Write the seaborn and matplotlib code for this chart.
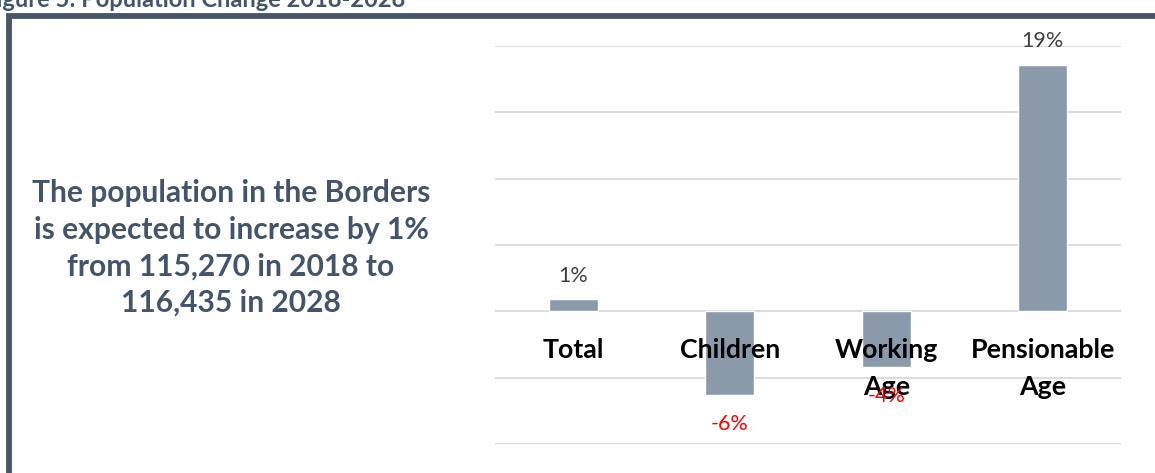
import matplotlib
matplotlib.use("Agg")
import matplotlib.pyplot as plt
from matplotlib.patches import Rectangle
import seaborn as sns
import pandas as pd

# ---- data ----
categories = ["Total", "Children", "Working\nAge", "Pensionable\nAge"]
changes = [0.95, -6.3, -4.2, 18.6]
y_ticks = [-10, -5, 0, 5, 10, 15, 20]
title_text = "Figure 5: Population Change 2018-2028"
side_text = ("The population in the Borders\nis expected to increase by 1%\n"
             "from 115,270 in 2018 to\n116,435 in 2028")

sns.set_theme(style="white")
plt.rcParams['font.family'] = ['Lato', 'DejaVu Sans']

W, H, DPI = 1155, 473, 100
fig = plt.figure(figsize=(W / DPI, H / DPI), dpi=DPI)
fig.patch.set_facecolor("white")

# axes placement (pixel based)
x0, x1 = 495, 1121
ytop, ybot = 46, 444
ax = fig.add_axes([x0 / W, (H - ybot) / H, (x1 - x0) / W, (ybot - ytop) / H])

df = pd.DataFrame({"cat": categories, "val": changes})
sns.barplot(data=df, x="cat", y="val", color="#8A9AAB", saturation=1,
            width=0.31, ax=ax)

ax.set_ylim(y_ticks[0], y_ticks[-1])
ax.set_xlim(-0.5, len(categories) - 0.5)
for t in y_ticks:
    ax.axhline(t, color="#D9D9D9", lw=1.3, zorder=0)
ax.set_yticks([])
ax.set_xticks([])
ax.set_xlabel("")
ax.set_ylabel("")
for s in ax.spines.values():
    s.set_visible(False)

# category labels next to the zero line
px_per_unit = (ybot - ytop) / (y_ticks[-1] - y_ticks[0])
def px_to_data(py):
    return (312 - py) / px_per_unit

for i, lab in enumerate(categories):
    lines = lab.split("\n")
    for j, ln in enumerate(lines):
        ax.text(i, px_to_data(359 + 37 * j), ln, ha="center", va="baseline",
                fontsize=19.3, fontweight="bold", color="black", zorder=5)

# data labels
for i, v in enumerate(changes):
    txt = f"{round(v):.0f}%"
    if v >= 0:
        ax.annotate(txt, (i, v), xytext=(0, 12.3), textcoords="offset points",
                    ha="center", va="baseline", fontsize=15.5, color="#404040")
    else:
        ax.annotate(txt, (i, v), xytext=(0, -14), textcoords="offset points",
                    ha="center", va="top", fontsize=15.5, color="#FF0000",
                    zorder=6)

# side text
fig.text(231 / W, 1 - 248 / H, side_text, ha="center", va="center",
         fontsize=21.6, fontweight="bold", color="#44546A", linespacing=1.37)

# cut-off title at the very top
fig.text(405 / W, 1 - 7 / H, title_text, ha="right", va="baseline",
         fontsize=17, fontweight="bold", color="#44546A")

# dark frame
frame = Rectangle((9 / W, -0.2), 1.5, 1.2 - 15.5 / H, transform=fig.transFigure,
                  fill=False, edgecolor="#475566", lw=4.2, clip_on=False)
fig.add_artist(frame)

fig.savefig("out.png", dpi=DPI, facecolor="white")
